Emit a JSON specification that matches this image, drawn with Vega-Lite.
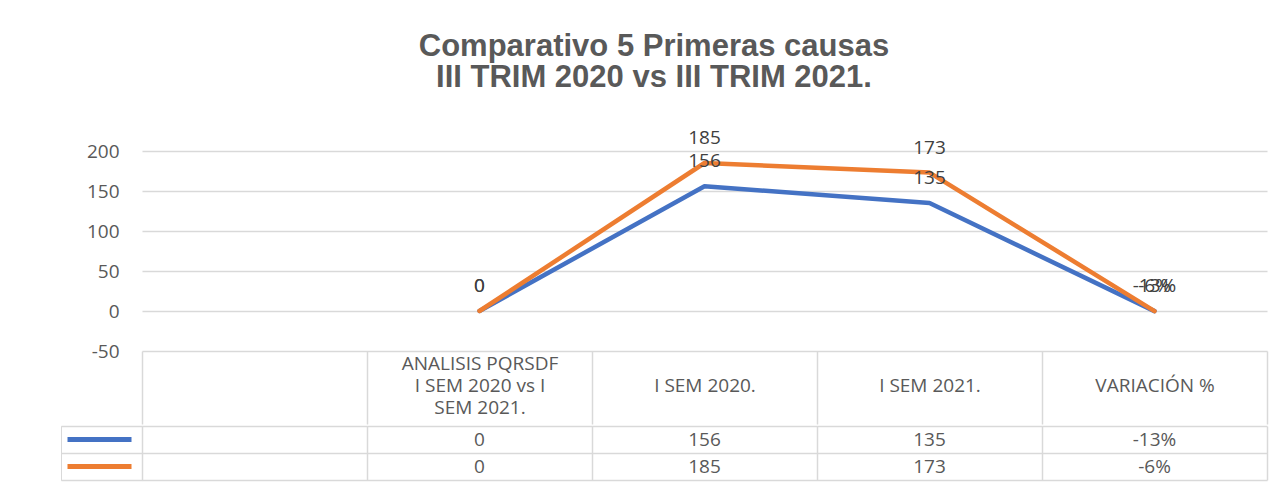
{
  "$schema": "https://vega.github.io/schema/vega-lite/v6.json",
  "background": "white",
  "padding": {"left": 60, "top": 31, "right": 18, "bottom": 5},
  "title": {
    "text": ["Comparativo 5 Primeras causas", "III TRIM 2020 vs III  TRIM 2021."],
    "font": "Liberation Sans",
    "fontSize": 31,
    "fontWeight": "bold",
    "color": "#595959",
    "lineHeight": 31,
    "anchor": "middle",
    "dx": -10,
    "offset": 35
  },
  "config": {"font": "Open Sans", "view": {"stroke": null}},
  "datasets": {
    "main": [
      {"cat": "ANALISIS PQRSDF\nI SEM 2020 vs I\nSEM 2021.", "serie": "Serie 1", "value": 0, "label": "0"},
      {"cat": "I SEM 2020.", "serie": "Serie 1", "value": 156, "label": "156"},
      {"cat": "I SEM 2021.", "serie": "Serie 1", "value": 135, "label": "135"},
      {"cat": "VARIACIÓN %", "serie": "Serie 1", "value": -0.13, "label": "-13%"},
      {"cat": "ANALISIS PQRSDF\nI SEM 2020 vs I\nSEM 2021.", "serie": "Serie 2", "value": 0, "label": "0"},
      {"cat": "I SEM 2020.", "serie": "Serie 2", "value": 185, "label": "185"},
      {"cat": "I SEM 2021.", "serie": "Serie 2", "value": 173, "label": "173"},
      {"cat": "VARIACIÓN %", "serie": "Serie 2", "value": -0.06, "label": "-6%"}
    ]
  },
  "resolve": {"scale": {"color": "independent"}, "legend": {"color": "independent"}},
  "spacing": 0,
  "vconcat": [
    {
      "width": 1125,
      "height": 200,
      "data": {"name": "main"},
      "encoding": {
        "x": {
          "field": "cat", "type": "nominal", "sort": null, "bandPosition": 0.5, "title": null,
          "scale": {"type": "band", "domain": ["", "ANALISIS PQRSDF\nI SEM 2020 vs I\nSEM 2021.", "I SEM 2020.", "I SEM 2021.", "VARIACIÓN %"], "paddingInner": 0, "paddingOuter": 0},
          "axis": {
            "orient": "bottom", "domain": false, "grid": false,
            "ticks": true, "tickBand": "extent", "tickSize": 73, "tickColor": "#d9d9d9", "tickWidth": 1.5,
            "labelExpr": "indexof(datum.label, '\\n') >= 0 ? split(datum.label, '\\n') : ['', datum.label]",
            "labelAngle": 0, "labelBaseline": "middle",
            "labelPadding": -61,
            "labelFontSize": 19, "labelColor": "#595959", "labelLineHeight": 22,
            "labelLimit": 0, "labelOverlap": false, "labelBound": false
          }
        },
        "y": {
          "field": "value", "type": "quantitative", "title": null,
          "scale": {"domain": [-50, 200], "nice": false, "zero": false},
          "axis": {
            "values": [-50, 0, 50, 100, 150, 200], "domain": false, "ticks": false,
            "labelExpr": "'' + datum.value",
            "labelPadding": 23, "labelFontSize": 19, "labelColor": "#595959",
            "grid": true, "gridColor": "#d9d9d9", "gridWidth": 1.5
          }
        }
      },
      "layer": [
        {
          "mark": {"type": "line", "strokeWidth": 4.5, "strokeCap": "round", "strokeJoin": "round"},
          "encoding": {
            "color": {"field": "serie", "type": "nominal", "legend": null,
              "scale": {"domain": ["Serie 1", "Serie 2"], "range": ["#4472C4", "#ED7D31"]}}
          }
        },
        {
          "mark": {"type": "text", "dy": -25, "fontSize": 19, "color": "#404040"},
          "encoding": {"text": {"field": "label"}, "detail": {"field": "serie"}}
        }
      ]
    },
    {
      "width": 1125,
      "height": 54,
      "data": {"name": "main"},
      "encoding": {
        "x": {
          "field": "cat", "type": "nominal", "sort": null, "bandPosition": 0.5, "title": null,
          "scale": {"type": "band", "domain": ["", "ANALISIS PQRSDF\nI SEM 2020 vs I\nSEM 2021.", "I SEM 2020.", "I SEM 2021.", "VARIACIÓN %"], "paddingInner": 0, "paddingOuter": 0},
          "axis": {"orient": "top", "labels": false, "ticks": false, "domain": false, "grid": true, "tickBand": "extent", "gridColor": "#d9d9d9", "gridWidth": 1.5}
        },
        "y": {
          "field": "serie", "type": "nominal", "bandPosition": 0.5, "title": null,
          "scale": {"type": "band", "domain": ["Serie 1", "Serie 2"], "paddingInner": 0, "paddingOuter": 0},
          "axis": {"labels": false, "domain": false, "ticks": true, "tickSize": 81, "tickBand": "extent", "tickColor": "#d9d9d9", "tickWidth": 1.5, "grid": true, "gridColor": "#d9d9d9", "gridWidth": 1.5}
        }
      },
      "layer": [
        {
          "mark": {"type": "text", "fontSize": 19, "color": "#595959"},
          "encoding": {"text": {"field": "label"}}
        },
        {
          "transform": [{"filter": {"field": "serie", "equal": "ninguna"}}],
          "mark": {"type": "line", "strokeWidth": 5},
          "encoding": {
            "color": {"field": "serie", "type": "nominal",
              "scale": {"domain": ["Serie 1", "Serie 2"], "range": ["#4472C4", "#ED7D31"]},
              "legend": {
                "orient": "none", "legendX": -81, "legendY": 0, "title": null, "padding": 0,
                "strokeColor": "#d9d9d9", "symbolType": "stroke", "symbolSize": 4096, "symbolStrokeWidth": 5,
                "clipHeight": 27, "rowPadding": 0, "symbolOffset": 4, "labelOffset": 8, "labelExpr": "''",
                "direction": "vertical"
              }
            }
          }
        }
      ]
    }
  ]
}
